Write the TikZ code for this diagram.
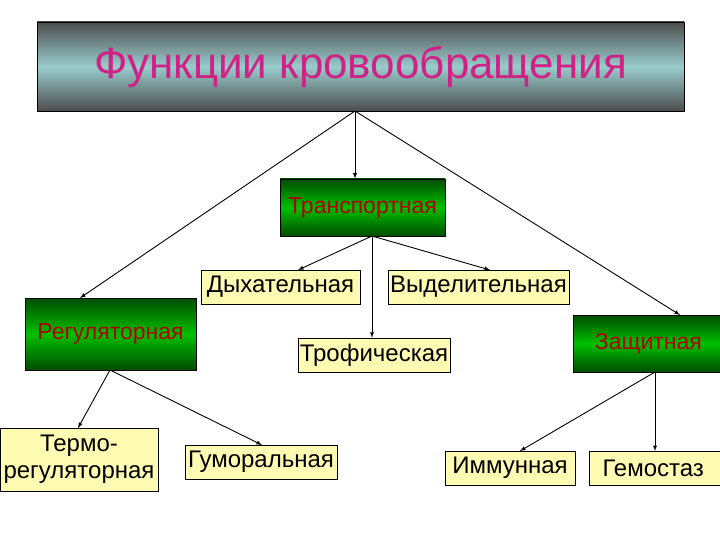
\documentclass[tikz,border=0pt]{standalone}
\usepackage{fontspec}
\setmainfont{Liberation Sans}
\begin{document}
\begin{tikzpicture}[x=1pt,y=-1pt,
  gbox/.style={draw=black,line width=0.8pt,top color=green!30!black,bottom color=green!30!black,middle color=green!75!black,text=red!70!black,font=\fontsize{23}{26}\selectfont},
  ybox/.style={draw=black,line width=0.5pt,fill=yellow!30,font=\fontsize{24}{27}\selectfont},
  arr/.style={-latex,line width=0.9pt}]
\useasboundingbox (0,0) rectangle (720,540);
\node[draw=black,line width=0.8pt,top color=black!70,bottom color=black!70,middle color=cyan!25!white!80!black,minimum width=647pt,minimum height=89pt,text=magenta!85!black,font=\fontsize{44}{48}\selectfont] (top) at (360.5,66.5) {Функции кровообращения};
\node[gbox,minimum width=165pt,minimum height=57pt,inner sep=0pt] (tr) at (362.5,207.5) {Транспортная};
\node[gbox,minimum width=171pt,minimum height=72pt,inner sep=0pt] (rg) at (110.5,334) {Регуляторная};
\node[gbox,minimum width=150pt,minimum height=57pt,inner sep=0pt,anchor=west] (zs) at (573,343.5) {Защитная};
\node[ybox,minimum width=159pt,minimum height=34pt,inner sep=0pt] (dy) at (280.5,287) {Дыхательная};
\node[ybox,minimum width=181pt,minimum height=34pt,inner sep=0pt] (vy) at (478.5,287) {Выделительная};
\node[ybox,minimum width=152pt,minimum height=34pt,inner sep=0pt] (tf) at (374,355) {Трофическая};
\node[ybox,minimum width=158pt,minimum height=63pt,inner sep=0pt,align=center] (tm) at (79,459.5) {Термо-\\регуляторная};
\node[ybox,minimum width=152pt,minimum height=34pt,inner sep=0pt] (gm) at (261,462) {Гуморальная};
\node[ybox,minimum width=130pt,minimum height=34pt,inner sep=0pt] (im) at (510,468) {Иммунная};
\node[ybox,minimum width=140pt,minimum height=34pt,inner sep=0pt,anchor=west] (gs) at (589,468) {\hspace*{-12pt}Гемостаз};
\coordinate (tb) at (355,111);
\draw[arr] (tb) -- (tb|-tr.north);
\draw[arr] (tb) -- (80,298);
\draw[arr] (tb) -- (680,315);
\coordinate (trb) at (372,236);
\draw[arr] (trb) -- (298,270);
\draw[arr] (trb) -- (490,270);
\draw[arr] (trb) -- (trb|-tf.north);
\coordinate (rgb) at (110,370);
\draw[arr] (rgb) -- (78,428);
\draw[arr] (rgb) -- (262,445);
\coordinate (zsb) at (655,372);
\draw[arr] (zsb) -- (520,451);
\draw[arr] (zsb) -- (655,451);
\end{tikzpicture}
\end{document}
